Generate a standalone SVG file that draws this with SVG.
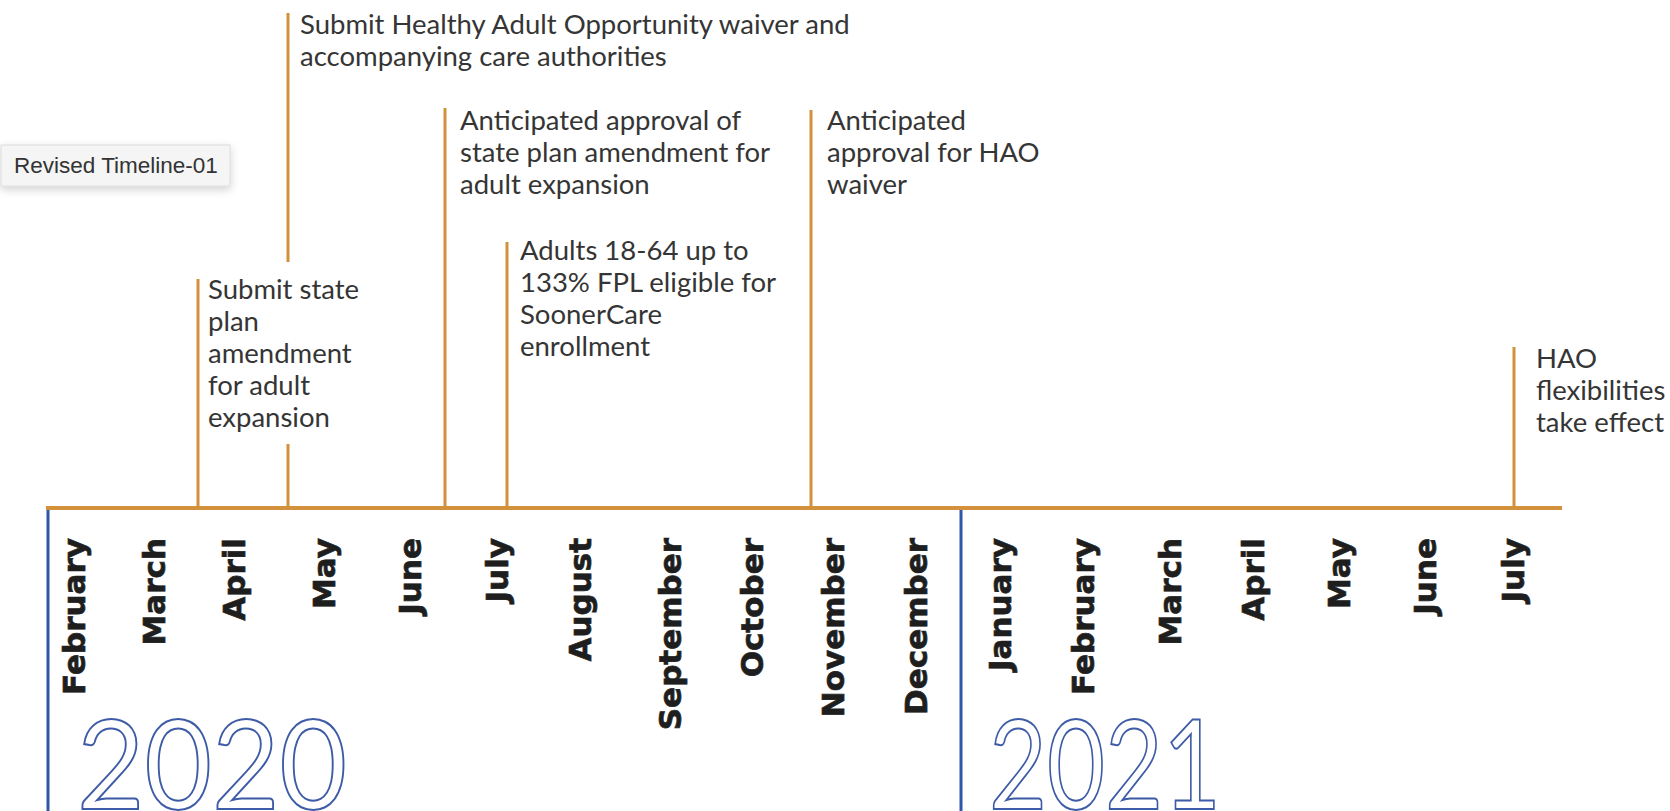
<svg xmlns="http://www.w3.org/2000/svg" width="1670" height="811" viewBox="0 0 1670 811">
<defs>
<filter id="sh" x="-20%" y="-40%" width="140%" height="200%">
<feDropShadow dx="0" dy="3" stdDeviation="4" flood-color="#000" flood-opacity="0.18"/>
</filter>
<style>
.lbl{font-family:Lato,"Liberation Sans",sans-serif;font-size:27.5px;fill:#353535}
.mon{font-family:"DejaVu Sans",sans-serif;font-weight:bold;font-size:31px;fill:#1e1e1e;stroke:#1e1e1e;stroke-width:0.7;text-anchor:end}
.yr{font-family:Lato,"Noto Sans",sans-serif;font-weight:normal;font-size:125px;fill:#fff;stroke:#3d5ba6;stroke-width:2}
.tick{stroke:#d2913a;stroke-width:3;fill:none}
.axis{stroke:#d2913a;stroke-width:4;fill:none}
.yline{stroke:#2e57a5;stroke-width:3;fill:none}
</style>
</defs>
<rect width="1670" height="811" fill="#fff"/>
<g id="badge">
<rect x="1" y="145" width="229" height="41" fill="#f5f5f5" stroke="#dcdcdc" stroke-width="1" filter="url(#sh)"/>
<text x="14" y="173" style="font-family:'Liberation Sans',sans-serif;font-size:22.5px;fill:#333">Revised Timeline-01</text>
</g>
<g id="connectors">
<line class="axis" x1="46" y1="508" x2="1562" y2="508"/>
<line class="yline" x1="48" y1="510" x2="48" y2="811"/>
<line class="yline" x1="961" y1="510" x2="961" y2="811"/>
<line class="tick" x1="198" y1="279" x2="198" y2="508"/>
<line class="tick" x1="288" y1="13" x2="288" y2="262"/>
<line class="tick" x1="288" y1="444" x2="288" y2="508"/>
<line class="tick" x1="445" y1="108" x2="445" y2="508"/>
<line class="tick" x1="507" y1="242" x2="507" y2="508"/>
<line class="tick" x1="811" y1="110" x2="811" y2="508"/>
<line class="tick" x1="1514" y1="347" x2="1514" y2="508"/>
</g>
<g id="ev-submit-hao">
<text class="lbl" x="300" y="34">Submit Healthy Adult Opportunity waiver and</text>
<text class="lbl" x="300" y="66">accompanying care authorities</text>
</g>
<g id="ev-submit-spa">
<text class="lbl" x="208" y="299">Submit state</text>
<text class="lbl" x="208" y="331">plan</text>
<text class="lbl" x="208" y="363">amendment</text>
<text class="lbl" x="208" y="395">for adult</text>
<text class="lbl" x="208" y="427">expansion</text>
</g>
<g id="ev-approval-spa">
<text class="lbl" x="460" y="130">Anticipated approval of</text>
<text class="lbl" x="460" y="162">state plan amendment for</text>
<text class="lbl" x="460" y="194">adult expansion</text>
</g>
<g id="ev-adults">
<text class="lbl" x="520" y="260">Adults 18-64 up to</text>
<text class="lbl" x="520" y="292">133% FPL eligible for</text>
<text class="lbl" x="520" y="324">SoonerCare</text>
<text class="lbl" x="520" y="356">enrollment</text>
</g>
<g id="ev-approval-hao">
<text class="lbl" x="827" y="130">Anticipated</text>
<text class="lbl" x="827" y="162">approval for HAO</text>
<text class="lbl" x="827" y="194">waiver</text>
</g>
<g id="ev-hao-effect">
<text class="lbl" x="1536" y="368">HAO</text>
<text class="lbl" x="1536" y="400">flexibilities</text>
<text class="lbl" x="1536" y="432">take effect</text>
</g>
<g id="months">
<text class="mon" transform="translate(85,538) rotate(-90)">February</text>
<text class="mon" transform="translate(165,538) rotate(-90)">March</text>
<text class="mon" transform="translate(245,538) rotate(-90)">April</text>
<text class="mon" transform="translate(335,538) rotate(-90)">May</text>
<text class="mon" transform="translate(421,538) rotate(-90)">June</text>
<text class="mon" transform="translate(508,538) rotate(-90)">July</text>
<text class="mon" transform="translate(591,538) rotate(-90)">August</text>
<text class="mon" transform="translate(681,538) rotate(-90)">September</text>
<text class="mon" transform="translate(763,538) rotate(-90)">October</text>
<text class="mon" transform="translate(844,538) rotate(-90)">November</text>
<text class="mon" transform="translate(927,538) rotate(-90)">December</text>
<text class="mon" transform="translate(1011,538) rotate(-90)">January</text>
<text class="mon" transform="translate(1094,538) rotate(-90)">February</text>
<text class="mon" transform="translate(1181,538) rotate(-90)">March</text>
<text class="mon" transform="translate(1264,538) rotate(-90)">April</text>
<text class="mon" transform="translate(1350,538) rotate(-90)">May</text>
<text class="mon" transform="translate(1436,538) rotate(-90)">June</text>
<text class="mon" transform="translate(1524,538) rotate(-90)">July</text>
</g>
<g id="years">
<text class="yr" x="77" y="809" textLength="270" lengthAdjust="spacingAndGlyphs">2020</text>
<text class="yr" x="989" y="809" textLength="232" lengthAdjust="spacingAndGlyphs">2021</text>
</g>
</svg>
